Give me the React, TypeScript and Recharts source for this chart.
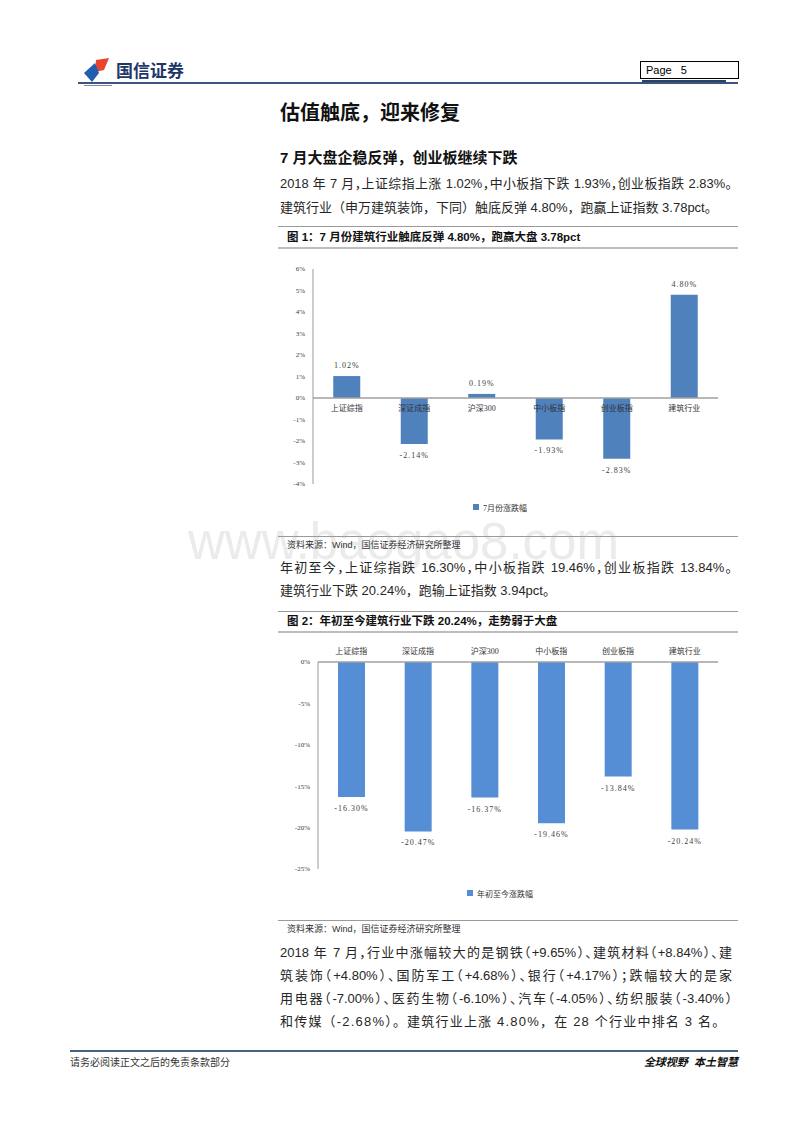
import React from 'react';
import {
  BarChart,
  Bar,
  XAxis,
  YAxis,
  ReferenceLine,
  LabelList,
  Legend,
} from 'recharts';

// Chart values
const categories = ['上证综指', '深证成指', '沪深300', '中小板指', '创业板指', '建筑行业'];
const julyChange = [1.02, -2.14, 0.19, -1.93, -2.83, 4.8];
const ytdChange = [-16.3, -20.47, -16.37, -19.46, -13.84, -20.24];
const julyTicks = [-4, -3, -2, -1, 0, 1, 2, 3, 4, 5, 6];
const ytdTicks = [-25, -20, -15, -10, -5, 0];

const julyData = categories.map((name, i) => ({ name, value: julyChange[i] }));
const ytdData = categories.map((name, i) => ({ name, value: ytdChange[i] }));

const BODY_FONT = '"Liberation Sans", "Noto Sans CJK SC", sans-serif';
const CHART_FONT = '"Liberation Serif", "Noto Sans CJK SC", serif';
const JULY_BLUE = '#4F81BD';
const YTD_BLUE = '#558ED5';

const pct = (v: number) => `${v.toFixed(2)}%`;

// value label above positive bars, below negative ones
const valueLabel = (props: any) => {
  const { x, y, width, height, value } = props;
  const v = Number(value);
  const top = Math.min(y, y + height);
  const bottom = Math.max(y, y + height);
  const ly = v >= 0 ? top - 8 : bottom + 14;
  return (
    <text x={x + width / 2} y={ly} textAnchor="middle" fontSize={8} fontFamily={CHART_FONT} fill="#404040" letterSpacing={1}>
      {pct(v)}
    </text>
  );
};

// category name drawn just under the zero line (chart 1)
const zeroCategoryLabel = (props: any) => {
  const { x, y, width, height, index } = props;
  const v = julyChange[index];
  const zero = v >= 0 ? Math.max(y, y + height) : Math.min(y, y + height);
  return (
    <text x={x + width / 2} y={zero + 13} textAnchor="middle" fontSize={8} fontFamily={CHART_FONT} fill="#333">
      {categories[index]}
    </text>
  );
};

const legendText = (value: string) => (
  <span style={{ color: '#333', fontSize: 8, fontFamily: CHART_FONT }}>{value}</span>
);

const Line = ({ top, left = 278, width = 460, color = '#9a9a9a', h = 1 }: any) => (
  <div style={{ position: 'absolute', top, left, width, height: h, background: color }} />
);

// justified lines use half-width punctuation so they fit, then spread to the full column
const TextLine = ({ top, children, justify = false, size = 13, spacing = 0 }: any) => (
  <div
    style={{
      position: 'absolute',
      top,
      left: 280,
      width: justify ? 452 : undefined,
      fontSize: size,
      lineHeight: '20px',
      color: '#262626',
      fontFamily: BODY_FONT,
      whiteSpace: justify ? 'normal' : 'nowrap',
      textAlign: justify ? 'justify' : 'left',
      textAlignLast: justify ? 'justify' : 'auto',
      fontFeatureSettings: justify ? '"halt" 1' : 'normal',
      letterSpacing: spacing,
    }}
  >
    {children}
  </div>
);

const Logo = () => (
  <svg width={30} height={28} style={{ position: 'absolute', left: 82, top: 56 }}>
    <polygon points="14,4 27,2 22,14 13,16" fill="#e8452c" />
    <polygon points="2,17 13,7 17,17 10,26" fill="#1f5fae" />
  </svg>
);

export default function App() {
  return (
    <div style={{ position: 'absolute', left: 0, top: 0, width: 800, height: 1132, background: '#fff', overflow: 'hidden' }}>
      {/* watermark */}
      <div
        style={{
          position: 'absolute',
          left: 188,
          top: 512,
          fontSize: 51,
          fontFamily: '"Liberation Sans", sans-serif',
          color: '#ebebeb',
          lineHeight: '60px',
          whiteSpace: 'nowrap',
        }}
      >
        www.baogao8.com
      </div>

      {/* header */}
      <Logo />
      <div style={{ position: 'absolute', left: 116, top: 59, fontSize: 17, fontWeight: 'bold', color: '#1d3769', fontFamily: '"Noto Sans CJK SC", sans-serif', lineHeight: '22px' }}>
        国信证券
      </div>
      <div style={{ position: 'absolute', left: 84, top: 85, width: 28, height: 1, background: '#7a8aa5' }} />
      <div
        style={{
          position: 'absolute',
          left: 640,
          top: 61,
          width: 92,
          height: 16,
          border: '1px solid #000',
          fontSize: 11,
          lineHeight: '16px',
          fontFamily: '"Liberation Sans", sans-serif',
          paddingLeft: 5,
          whiteSpace: 'pre',
        }}
      >
        {'Page   5'}
      </div>
      <div style={{ position: 'absolute', left: 78, top: 82, width: 660, height: 2, background: '#3a5680' }} />
      <div style={{ position: 'absolute', left: 642, top: 80, width: 84, height: 2, background: '#2a4266' }} />

      {/* headings */}
      <div style={{ position: 'absolute', left: 280, top: 100, fontSize: 20, fontWeight: 'bold', fontFamily: BODY_FONT, lineHeight: '26px', color: '#111' }}>
        估值触底，迎来修复
      </div>
      <div style={{ position: 'absolute', left: 280, top: 148, fontSize: 15, fontWeight: 'bold', fontFamily: BODY_FONT, lineHeight: '20px', color: '#111' }}>
        7 月大盘企稳反弹，创业板继续下跌
      </div>

      <TextLine top={174} justify size={12.9}>2018 年 7 月，上证综指上涨 1.02%，中小板指下跌 1.93%，创业板指跌 2.83%。</TextLine>
      <TextLine top={198}>建筑行业（申万建筑装饰，下同）触底反弹 4.80%，跑赢上证指数 3.78pct。</TextLine>

      {/* figure 1 */}
      <Line top={226} />
      <div style={{ position: 'absolute', left: 287, top: 229, fontSize: 11.5, fontWeight: 'bold', fontFamily: BODY_FONT, lineHeight: '16px', color: '#111' }}>
        图 1：7 月份建筑行业触底反弹 4.80%，跑赢大盘 3.78pct
      </div>
      <Line top={247} color="#bdbdbd" h={2} />

      <div style={{ position: 'absolute', left: 270, top: 255 }}>
        <BarChart width={470} height={270} data={julyData} margin={{ top: 14, right: 22, left: 0, bottom: 41 }} barCategoryGap="30%">
          <XAxis dataKey="name" hide />
          <YAxis
            width={43}
            domain={[-4, 6]}
            ticks={julyTicks}
            interval={0}
            tickFormatter={(v: number) => `${v}%`}
            tick={{ fontSize: 7, fontFamily: CHART_FONT, fill: '#404040' }}
            tickLine={false}
            axisLine={{ stroke: '#9a9a9a' }}
          />
          <ReferenceLine y={0} stroke="#a0a0a0" strokeWidth={1.5} />
          <Bar dataKey="value" name="7月份涨跌幅" fill={JULY_BLUE} isAnimationActive={false}>
            <LabelList dataKey="value" content={valueLabel} />
            <LabelList dataKey="value" content={zeroCategoryLabel} />
          </Bar>
          <Legend
            layout="horizontal"
            verticalAlign="middle"
            align="center"
            iconType="square"
            iconSize={6}
            formatter={legendText}
            wrapperStyle={{ top: 245, left: 0, width: 470, lineHeight: '12px' }}
          />
        </BarChart>
      </div>

      <Line top={536} />
      <div style={{ position: 'absolute', left: 287, top: 539, fontSize: 9, fontFamily: BODY_FONT, lineHeight: '12px', color: '#333' }}>
        资料来源：Wind，国信证券经济研究所整理
      </div>

      <TextLine top={558} justify>年初至今，上证综指跌 16.30%，中小板指跌 19.46%，创业板指跌 13.84%。</TextLine>
      <TextLine top={581}>建筑行业下跌 20.24%，跑输上证指数 3.94pct。</TextLine>

      {/* figure 2 */}
      <Line top={611} />
      <div style={{ position: 'absolute', left: 287, top: 613, fontSize: 11.5, fontWeight: 'bold', fontFamily: BODY_FONT, lineHeight: '16px', color: '#111' }}>
        图 2：年初至今建筑行业下跌 20.24%，走势弱于大盘
      </div>
      <Line top={631} color="#bdbdbd" h={2} />

      <div style={{ position: 'absolute', left: 270, top: 640 }}>
        <BarChart width={470} height={270} data={ytdData} margin={{ top: 0, right: 22, left: 0, bottom: 41 }} barCategoryGap="30%">
          <XAxis
            dataKey="name"
            orientation="top"
            height={22}
            interval={0}
            tickLine={false}
            axisLine={{ stroke: '#a0a0a0', strokeWidth: 1.5 }}
            tick={{ fontSize: 8, fontFamily: CHART_FONT, fill: '#333' }}
          />
          <YAxis
            width={48}
            domain={[-25, 0]}
            ticks={ytdTicks}
            interval={0}
            tickFormatter={(v: number) => `${v}%`}
            tick={{ fontSize: 7, fontFamily: CHART_FONT, fill: '#404040' }}
            tickLine={false}
            axisLine={{ stroke: '#9a9a9a' }}
          />
          <Bar dataKey="value" name="年初至今涨跌幅" fill={YTD_BLUE} isAnimationActive={false}>
            <LabelList dataKey="value" content={valueLabel} />
          </Bar>
          <Legend
            layout="horizontal"
            verticalAlign="middle"
            align="center"
            iconType="square"
            iconSize={6}
            formatter={legendText}
            wrapperStyle={{ top: 246, left: 0, width: 470, lineHeight: '12px' }}
          />
        </BarChart>
      </div>

      <Line top={920} />
      <div style={{ position: 'absolute', left: 287, top: 923, fontSize: 9, fontFamily: BODY_FONT, lineHeight: '12px', color: '#333' }}>
        资料来源：Wind，国信证券经济研究所整理
      </div>

      <TextLine top={943} justify>2018 年 7 月，行业中涨幅较大的是钢铁（+9.65%）、建筑材料（+8.84%）、建</TextLine>
      <TextLine top={966} justify>筑装饰（+4.80%）、国防军工（+4.68%）、银行（+4.17%）；跌幅较大的是家</TextLine>
      <TextLine top={989} justify>用电器（-7.00%）、医药生物（-6.10%）、汽车（-4.05%）、纺织服装（-3.40%）</TextLine>
      <TextLine top={1012} spacing={1.2}>和传媒（-2.68%）。建筑行业上涨 4.80%，在 28 个行业中排名 3 名。</TextLine>

      {/* footer */}
      <div style={{ position: 'absolute', left: 70, top: 1050, width: 668, height: 2, background: '#4a6282' }} />
      <div style={{ position: 'absolute', left: 70, top: 1056, fontSize: 10, fontFamily: BODY_FONT, lineHeight: '14px', color: '#333' }}>
        请务必阅读正文之后的免责条款部分
      </div>
      <div
        style={{
          position: 'absolute',
          right: 62,
          top: 1055,
          fontSize: 11,
          fontWeight: 'bold',
          fontStyle: 'italic',
          fontFamily: BODY_FONT,
          lineHeight: '14px',
          color: '#111',
          whiteSpace: 'pre',
        }}
      >
        {'全球视野  本土智慧'}
      </div>
    </div>
  );
}
